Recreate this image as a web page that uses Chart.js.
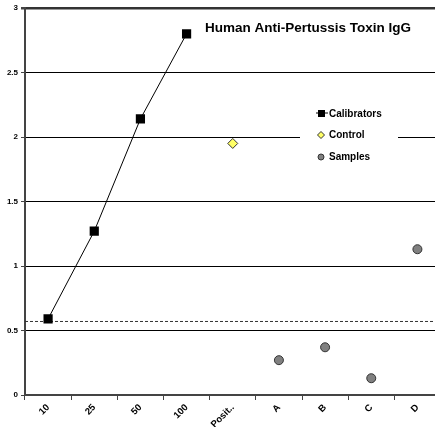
<!DOCTYPE html>
<html>
<head>
<meta charset="utf-8">
<script src="https://cdn.jsdelivr.net/npm/chart.js@4"></script>
<style>
  html, body { margin: 0; padding: 0; background: #fff; overflow: hidden; }
  #wrap { width: 447px; height: 427px; }
</style>
</head>
<body>
<div id="wrap"><canvas id="igg" width="447" height="427"></canvas></div>
<script>
const categories = ['10', '25', '50', '100', 'Posit..', 'A', 'B', 'C', 'D'];
const calibrators = [0.59, 1.27, 2.14, 2.80, null, null, null, null, null];
const control = [null, null, null, null, 1.95, null, null, null, null];
const samples = [null, null, null, null, null, 0.27, 0.37, 0.13, 1.13];
const cutoff = 0.57;
const yTicks = [0, 0.5, 1, 1.5, 2, 2.5, 3];

const chartTitle = 'Human Anti-Pertussis Toxin IgG';
const legendItems = ['Calibrators', 'Control', 'Samples'];

const fontFamily = '"Liberation Sans", Arial, sans-serif';

// dashed cut-off line, title and in-plot legend
const extras = {
    id: 'extras',
    beforeDatasetsDraw(chart) {
        const c = chart.ctx;
        const area = chart.chartArea;
        const y = chart.scales.y.getPixelForValue(cutoff);
        c.save();
        c.strokeStyle = '#333';
        c.lineWidth = 1;
        c.setLineDash([3, 2]);
        c.beginPath();
        c.moveTo(area.left, y);
        c.lineTo(area.right, y);
        c.stroke();
        c.setLineDash([]);

        // legend box hides the gridline behind it
        c.fillStyle = '#fff';
        c.fillRect(300, 100, 98, 68);
        c.restore();
    },
    afterDraw(chart) {
        const c = chart.ctx;
        c.save();
        c.fillStyle = '#000';
        c.textBaseline = 'alphabetic';
        c.font = 'bold 13.5px ' + fontFamily;
        c.fillText(chartTitle, 205, 32);

        c.font = 'bold 10px ' + fontFamily;
        c.textBaseline = 'middle';
        // Calibrators
        c.strokeStyle = '#000';
        c.lineWidth = 1;
        c.beginPath();
        c.moveTo(316, 113);
        c.lineTo(328, 113);
        c.stroke();
        c.fillRect(318, 110, 7, 7);
        c.fillText(legendItems[0], 329, 114);
        // Control
        c.fillStyle = '#ffff66';
        c.strokeStyle = '#333';
        c.beginPath();
        c.moveTo(321, 131.5);
        c.lineTo(324.5, 135);
        c.lineTo(321, 138.5);
        c.lineTo(317.5, 135);
        c.closePath();
        c.fill();
        c.stroke();
        c.fillStyle = '#000';
        c.fillText(legendItems[1], 329, 135);
        // Samples
        c.fillStyle = '#808080';
        c.beginPath();
        c.arc(321, 157, 3, 0, Math.PI * 2);
        c.fill();
        c.stroke();
        c.fillStyle = '#000';
        c.fillText(legendItems[2], 329, 157);
        c.restore();
    }
};

const ctx = document.getElementById('igg').getContext('2d');
const chart = new Chart(ctx, {
    type: 'line',
    data: {
        labels: categories,
        datasets: [
            {
                label: 'Calibrators',
                data: calibrators,
                borderColor: '#000',
                borderWidth: 1,
                backgroundColor: '#000',
                pointStyle: 'rect',
                pointRadius: 6.5,
                pointBorderWidth: 0,
                tension: 0
            },
            {
                label: 'Control',
                data: control,
                showLine: false,
                backgroundColor: '#ffff66',
                borderColor: '#333',
                pointStyle: 'rectRot',
                pointRadius: 5,
                pointBorderWidth: 1
            },
            {
                label: 'Samples',
                data: samples,
                showLine: false,
                backgroundColor: '#808080',
                borderColor: '#333',
                pointStyle: 'circle',
                pointRadius: 4.5,
                pointBorderWidth: 1
            }
        ]
    },
    options: {
        responsive: false,
        animation: false,
        layout: { padding: { top: 8, right: 0, left: 0, bottom: 0 } },
        plugins: {
            legend: { display: false },
            title: { display: false },
            tooltip: { enabled: false }
        },
        scales: {
            x: {
                offset: true,
                border: { color: '#444', width: 2 },
                grid: {
                    offset: true,
                    drawOnChartArea: false,
                    drawTicks: true,
                    tickLength: 5,
                    color: '#444'
                },
                ticks: {
                    color: '#000',
                    font: { family: fontFamily, size: 9.5, weight: 'bold' },
                    maxRotation: 45,
                    minRotation: 45,
                    padding: 2,
                    autoSkip: false
                },
                afterFit(scale) {
                    scale.height = 32;
                }
            },
            y: {
                min: 0,
                max: 3,
                border: { color: '#444', width: 2 },
                grid: {
                    color: (c) => (c.tick && c.tick.value === 3 ? '#333' : '#000'),
                    lineWidth: (c) => (c.tick && c.tick.value === 3 ? 2.5 : 1),
                    tickLength: 4,
                    tickColor: '#444'
                },
                afterBuildTicks(scale) {
                    scale.ticks = yTicks.map(v => ({ value: v }));
                },
                ticks: {
                    color: '#000',
                    padding: 3,
                    font: { family: fontFamily, size: 8, weight: 'bold' },
                    callback: (v) => String(v)
                },
                afterFit(scale) {
                    scale.width = 25;
                }
            }
        }
    },
    plugins: [extras]
});
</script>
</body>
</html>
